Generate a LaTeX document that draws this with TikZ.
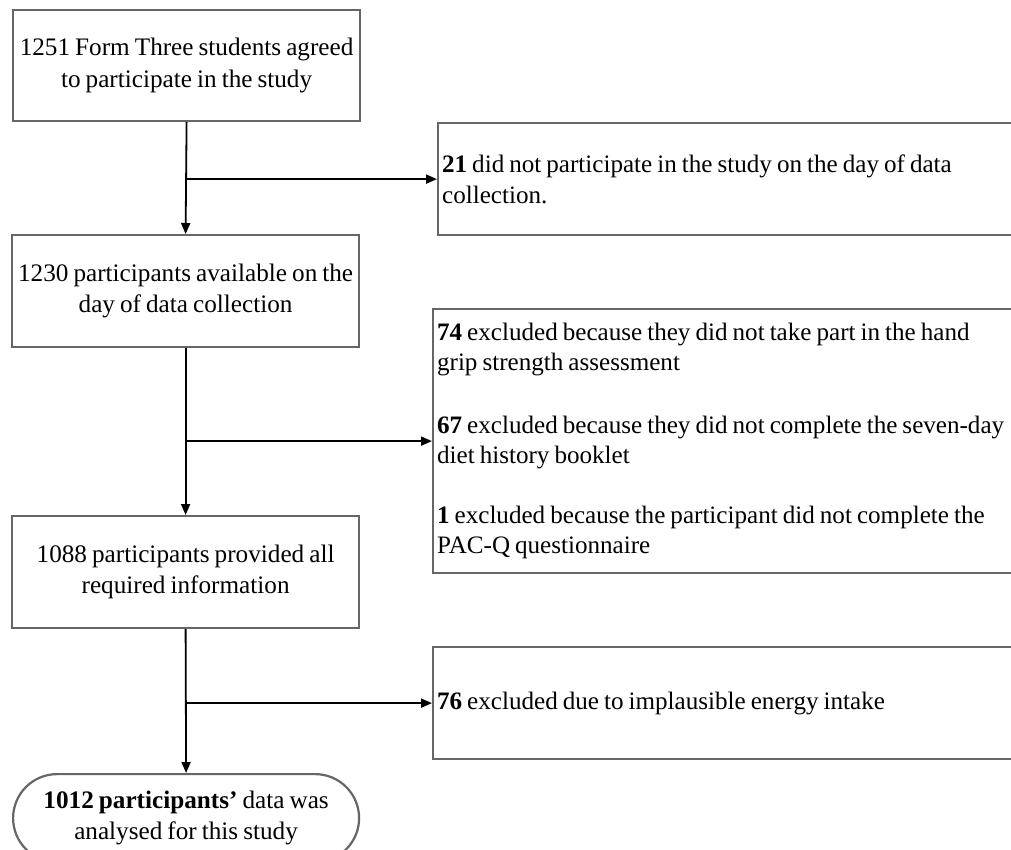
\documentclass[tikz,border=0pt]{standalone}
\usepackage{fontspec}
\setmainfont{Liberation Serif}[WordSpace=0.8]
\usetikzlibrary{arrows.meta}
\begin{document}
\begin{tikzpicture}[x=1pt,y=-1pt,
  box/.style={draw=black!60, line width=2.2pt, fill=white, font=\fontsize{25.2}{31.5}\selectfont, anchor=north west},
  cbox/.style={box, align=center, minimum width=347pt, minimum height=111pt},
  rbox/.style={box, font=\fontsize{25.1}{30.5}\selectfont, align=flush left, text width=640pt, inner xsep=4pt, inner ysep=0pt},
  arr/.style={-{Triangle[length=11pt,width=9pt]}, line width=1.8pt, black}]
\useasboundingbox (0,0) rectangle (1011,849);
\clip (0,0) rectangle (1011,849);
% main column
\node[cbox] (b1) at (12,9) {1251 Form Three students agreed\\to participate in the study};
\node[cbox, minimum height=112pt] (b2) at (11,234) {1230 participants available on the\\day of data collection};
\node[cbox, minimum height=112pt] (b3) at (11,515) {1088 participants provided all\\required information};
\node[box, align=center, minimum width=346pt, minimum height=88pt, rounded corners=44pt] (b4) at (12,773) {\textbf{1012 participants’} data was\\analysed for this study};
% side boxes
\node[rbox, minimum height=112pt] (r1) at (437,122) {\textbf{21} did not participate in the study on the day of data\\collection.};
\node[rbox, minimum height=264pt] (r2) at (432,308) {\textbf{74} excluded because they did not take part in the hand\\grip strength assessment\\[32pt]\textbf{67} excluded because they did not complete the seven-day\\diet history booklet\\[29pt]\textbf{1} excluded because the participant did not complete the\\PAC-Q questionnaire};
\node[rbox, minimum height=112pt] (r3) at (432,646) {\textbf{76} excluded due to implausible energy intake};
% junctions
\coordinate (j1) at (b1.south |- r1.west);
\coordinate (j2) at (b2.south |- r2.west);
\coordinate (j3) at (b3.south |- r3.west);
% connectors
\draw[arr] (b1.south) -- (b2.north);
\draw[arr] (b2.south) -- (b3.north);
\draw[arr] (b3.south) -- (b4.north);
\draw[arr] (j1) -- (r1.west);
\draw[arr] (j2) -- (r2.west);
\draw[arr] (j3) -- (r3.west);
\end{tikzpicture}
\end{document}
